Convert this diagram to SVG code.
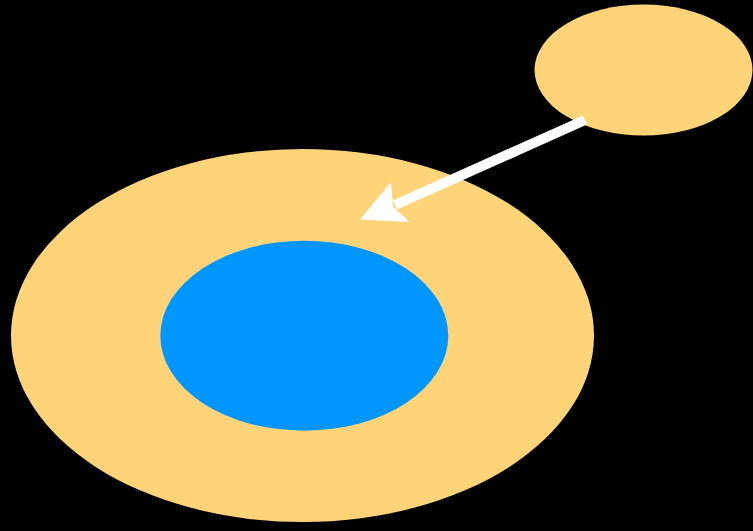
<svg xmlns="http://www.w3.org/2000/svg" width="753" height="531" viewBox="0 0 753 531">
<style>
.cant{fill:#FFD479}
.aqua{fill:#0096FF}
.conn{stroke:#FFFFFF;stroke-width:10;fill:none}
.head{fill:#FFFFFF}
</style>
<rect x="0" y="0" width="753" height="531" fill="#000000"/>
<g id="outer"><ellipse class="cant" cx="302.5" cy="335.5" rx="291.5" ry="186.5"/></g>
<g id="inner"><ellipse class="aqua" cx="304.3" cy="335.7" rx="144" ry="95"/></g>
<g id="small"><ellipse class="cant" cx="643.5" cy="70" rx="109" ry="65.5"/></g>
<g id="connectors">
<line class="conn" x1="585" y1="120" x2="395" y2="205"/>
<path class="head" d="M360,219.5 L391,182 L393,206.5 L409.5,222 Z"/>
</g>
</svg>
